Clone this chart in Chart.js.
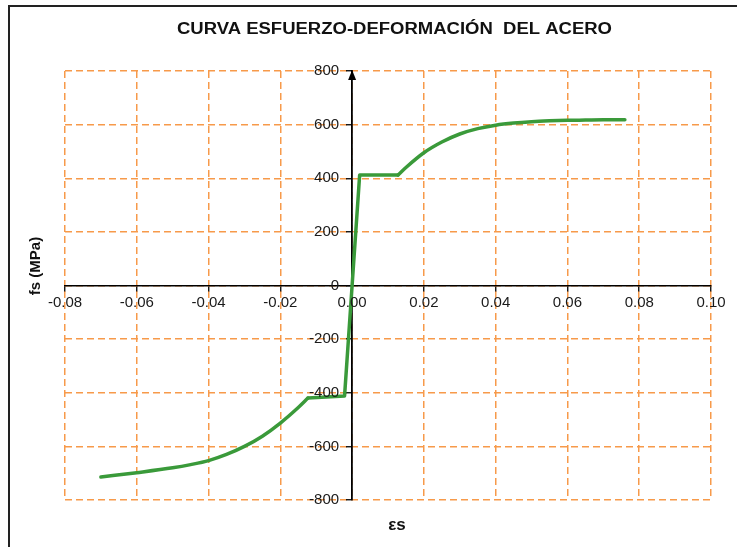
<!DOCTYPE html>
<html>
<head>
<meta charset="utf-8">
<script src="https://cdn.jsdelivr.net/npm/chart.js@4.4.1/dist/chart.umd.min.js"></script>
<style>
  html, body { margin: 0; padding: 0; background: #fff; }
  #wrap { position: relative; width: 737px; height: 547px; }
  #frame { position: absolute; left: 8px; top: 5px; right: -4px; bottom: -4px; border-left: 2px solid #222; border-top: 2px solid #222; pointer-events: none; }
</style>
</head>
<body>
<div id="wrap">
  <canvas id="chart" width="737" height="547"></canvas>
  <div id="frame"></div>
</div>
<script>
// Strain (εs) and stress fs (MPa)
// hardening branch in compression
const strainNegCurve = [-0.07, -0.06, -0.05, -0.045, -0.04, -0.035, -0.03, -0.025, -0.02, -0.015, -0.0123];
const stressNegCurve = [-714, -698, -680, -668, -653, -630, -600, -562, -513, -455, -420];
// elastic part and both yield plateaus
const strainMid = [-0.0123, -0.0021, 0, 0.0021, 0.0128];
const stressMid = [-420, -412, 0, 412, 412];
// hardening branch in tension
const strainPosCurve = [0.0128, 0.015, 0.02, 0.025, 0.03, 0.035, 0.04, 0.045, 0.05, 0.055, 0.06, 0.065, 0.07, 0.076];
const stressPosCurve = [412, 440, 495, 535, 565, 585, 598, 606, 611, 614, 616, 617, 618, 618];

const xTicks = [-0.08, -0.06, -0.04, -0.02, 0, 0.02, 0.04, 0.06, 0.08, 0.10];
const yTicks = [-800, -600, -400, -200, 0, 200, 400, 600, 800];

const titleText = 'CURVA ESFUERZO-DEFORMACIÓN  DEL ACERO';
const xTitle = 'εs';
const yTitle = 'fs (MPa)';

const toPoints = (xs, ys) => xs.map((x, i) => ({ x: x, y: ys[i] }));

const lineColor = '#3a9a3a';
const gridColor = '#f79a4a';
const font = 'Arial, "Liberation Sans", sans-serif';

const lineSet = (data, smooth) => ({
  data: data,
  showLine: true,
  borderColor: lineColor,
  backgroundColor: lineColor,
  borderWidth: 3.5,
  pointRadius: 0,
  cubicInterpolationMode: smooth ? 'monotone' : 'default',
  tension: 0,
  borderCapStyle: 'round',
  borderJoinStyle: 'round'
});

// tick labels, titles and the arrow on the vertical axis
const decorations = {
  id: 'decorations',
  afterDraw(chart) {
    const { ctx, chartArea, scales } = chart;
    const x0 = scales.x.getPixelForValue(0);
    const y0 = scales.y.getPixelForValue(0);
    ctx.save();
    // arrow head
    ctx.fillStyle = '#000';
    ctx.beginPath();
    ctx.moveTo(x0, chartArea.top - 1);
    ctx.lineTo(x0 - 4, chartArea.top + 9);
    ctx.lineTo(x0 + 4, chartArea.top + 9);
    ctx.closePath();
    ctx.fill();

    ctx.fillStyle = '#1a1a1a';
    ctx.font = '15px ' + font;
    ctx.textBaseline = 'middle';
    ctx.textAlign = 'right';
    yTicks.forEach(v => ctx.fillText(String(v), x0 - 13, scales.y.getPixelForValue(v)));
    ctx.textAlign = 'center';
    xTicks.forEach(v => ctx.fillText(v.toFixed(2), scales.x.getPixelForValue(v), y0 + 17));

    ctx.fillStyle = '#111';
    ctx.font = 'bold 16px ' + font;
    const w = ctx.measureText(titleText).width;
    ctx.save();
    ctx.translate(394.5, 30);
    ctx.scale(435 / w, 1);
    ctx.fillText(titleText, 0, 0);
    ctx.restore();

    ctx.font = 'bold 17px ' + font;
    ctx.fillText(xTitle, 397, 525);

    ctx.translate(36, 266);
    ctx.rotate(-Math.PI / 2);
    ctx.font = 'bold 15px ' + font;
    ctx.fillText(yTitle, 0, 0);
    ctx.restore();
  }
};

const hiddenTicks = { color: 'rgba(0,0,0,0)', font: { family: font, size: 14 }, padding: 3, maxRotation: 0 };

new Chart(document.getElementById('chart'), {
  type: 'scatter',
  data: {
    datasets: [
      lineSet(toPoints(strainNegCurve, stressNegCurve), true),
      lineSet(toPoints(strainMid, stressMid), false),
      lineSet(toPoints(strainPosCurve, stressPosCurve), true)
    ]
  },
  options: {
    responsive: false,
    animation: false,
    layout: { padding: { left: 65, right: 26, top: 71, bottom: 47 } },
    plugins: {
      legend: { display: false },
      tooltip: { enabled: false },
      title: { display: false }
    },
    scales: {
      x: {
        type: 'linear',
        position: { y: 0 },
        min: -0.08,
        max: 0.10,
        afterBuildTicks: axis => { axis.ticks = xTicks.map(v => ({ value: v })); },
        ticks: hiddenTicks,
        grid: { color: gridColor, lineWidth: 1.5, tickColor: '#000', tickLength: 5, tickWidth: 1.3 },
        border: { display: true, color: '#000', width: 1.5, dash: [7, 4] }
      },
      y: {
        type: 'linear',
        position: { x: 0 },
        min: -800,
        max: 800,
        afterBuildTicks: axis => { axis.ticks = yTicks.map(v => ({ value: v })); },
        ticks: hiddenTicks,
        grid: { color: gridColor, lineWidth: 1.5, tickColor: '#000', tickLength: 5, tickWidth: 1.3 },
        border: { display: true, color: '#000', width: 1.8, dash: [7, 4] }
      }
    }
  },
  plugins: [decorations]
});
</script>
</body>
</html>
